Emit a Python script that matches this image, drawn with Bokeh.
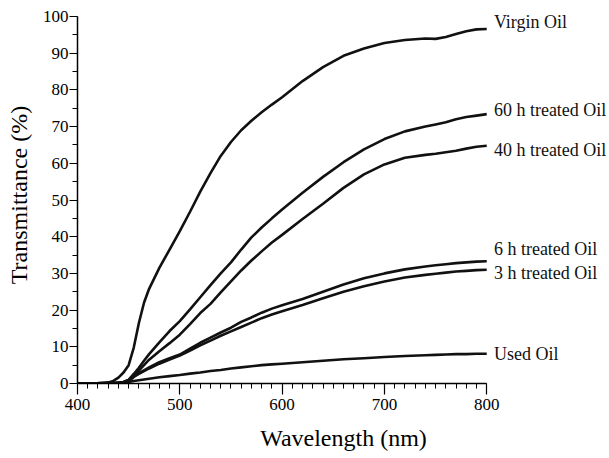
from bokeh.plotting import figure
from bokeh.models import Range1d, SingleIntervalTicker
from bokeh.core.properties import value
from bokeh.embed import file_html
from bokeh.resources import INLINE

wavelength = [400, 410, 420, 430, 435, 440, 445, 450, 455, 460, 465, 470, 480, 490,
              500, 510, 520, 530, 540, 550, 560, 570, 580, 590, 600, 620, 640, 660,
              680, 700, 720, 740, 750, 760, 770, 780, 790, 800]

virgin = [0.0, 0.05, 0.1, 0.3, 0.7, 1.6, 3.0, 5.0, 9.8, 16.5, 22.0, 25.8, 31.5, 36.5,
          41.5, 46.8, 52.3, 57.3, 62.0, 65.8, 69.0, 71.6, 73.9, 76.0, 78.0, 82.4, 86.2, 89.3,
          91.3, 92.8, 93.6, 94.0, 93.9, 94.4, 95.2, 96.0, 96.5, 96.6]

h60 = [0.0, 0.0, 0.0, 0.05, 0.1, 0.2, 0.4, 1.0, 2.6, 4.3, 6.2, 8.0, 11.2, 14.3,
       17.0, 20.2, 23.5, 26.8, 30.0, 33.0, 36.5, 39.8, 42.5, 45.0, 47.4, 52.0, 56.3, 60.3,
       63.8, 66.6, 68.7, 70.0, 70.6, 71.2, 72.0, 72.6, 73.0, 73.4]

h40 = [0.0, 0.0, 0.0, 0.05, 0.1, 0.2, 0.3, 0.5, 1.8, 3.5, 5.0, 6.5, 8.8, 11.0,
       13.3, 16.2, 19.2, 21.7, 24.8, 27.8, 30.8, 33.5, 36.0, 38.4, 40.5, 44.8, 49.0, 53.3,
       57.0, 59.7, 61.5, 62.3, 62.6, 63.0, 63.4, 64.0, 64.5, 64.8]

h6 = [0.0, 0.0, 0.0, 0.05, 0.1, 0.2, 0.4, 1.0, 2.0, 2.8, 3.6, 4.4, 5.8, 6.9,
      7.9, 9.5, 11.1, 12.5, 13.9, 15.2, 16.8, 18.0, 19.3, 20.4, 21.3, 23.0, 25.0, 27.0,
      28.7, 30.0, 31.1, 31.9, 32.2, 32.5, 32.8, 33.0, 33.2, 33.3]

h3 = [0.0, 0.0, 0.0, 0.05, 0.1, 0.2, 0.3, 0.8, 1.8, 2.6, 3.4, 4.1, 5.4, 6.5,
      7.6, 9.0, 10.4, 11.7, 13.0, 14.2, 15.4, 16.6, 17.8, 18.8, 19.7, 21.4, 23.2, 25.0,
      26.5, 27.8, 28.9, 29.6, 29.9, 30.2, 30.5, 30.7, 30.9, 31.0]

used = [0.0, 0.0, 0.0, 0.05, 0.05, 0.1, 0.2, 0.4, 0.7, 0.9, 1.1, 1.3, 1.7, 2.0,
        2.3, 2.7, 3.0, 3.4, 3.7, 4.1, 4.4, 4.7, 5.0, 5.2, 5.4, 5.8, 6.2, 6.6,
        6.9, 7.2, 7.5, 7.7, 7.8, 7.9, 8.0, 8.0, 8.1, 8.1]

series = [virgin, h60, h40, h6, h3, used]
label_names = ["Virgin Oil", "60 h treated Oil", "40 h treated Oil",
               "6 h treated Oil", "3 h treated Oil", "Used Oil"]
label_y = [98.4, 74.6, 63.7, 36.7, 30.2, 8.1]
label_x = [807] * 6

SERIF = "Liberation Serif"

p = figure(width=609, height=458,
           x_range=Range1d(400, 920), y_range=Range1d(0, 104.36),
           output_backend="svg", toolbar_location=None,
           min_border_left=77, min_border_right=0,
           min_border_top=0, min_border_bottom=75)

p.outline_line_color = None
p.xgrid.visible = False
p.ygrid.visible = False
p.background_fill_color = "white"
p.border_fill_color = "white"

for ys in series:
    p.line(wavelength, ys, line_color="#111111", line_width=2.6)

p.text(x=label_x, y=label_y, text=label_names,
       text_font=value(SERIF), text_font_size="18px",
       text_align="left", text_baseline="middle", text_color="#111111")

xa = p.xaxis[0]
xa.bounds = (400, 800)
xa.ticker = SingleIntervalTicker(interval=100, num_minor_ticks=10)
xa.axis_line_color = "black"
xa.axis_line_width = 1.5
xa.major_tick_line_color = "black"
xa.major_tick_line_width = 1.2
xa.minor_tick_line_color = "black"
xa.major_tick_out = 11
xa.major_tick_in = 0
xa.minor_tick_out = 5
xa.minor_tick_in = 0
xa.major_label_text_font = SERIF
xa.major_label_text_font_size = "17px"
xa.major_label_text_color = "black"
xa.major_label_standoff = 4
xa.axis_label = "Wavelength (nm)"
xa.axis_label_text_font = SERIF
xa.axis_label_text_font_size = "24px"
xa.axis_label_text_font_style = "normal"
xa.axis_label_text_color = "black"
xa.axis_label_standoff = 12

ya = p.yaxis[0]
ya.bounds = (0, 100)
ya.ticker = SingleIntervalTicker(interval=10, num_minor_ticks=2)
ya.axis_line_color = "black"
ya.axis_line_width = 1.5
ya.major_tick_line_color = "black"
ya.major_tick_line_width = 1.2
ya.minor_tick_line_color = "black"
ya.major_tick_out = 8
ya.major_tick_in = 0
ya.minor_tick_out = 5
ya.minor_tick_in = 0
ya.major_label_text_font = SERIF
ya.major_label_text_font_size = "17px"
ya.major_label_text_color = "black"
ya.major_label_standoff = 1
ya.axis_label = "Transmittance  (%)"
ya.axis_label_text_font = SERIF
ya.axis_label_text_font_size = "24px"
ya.axis_label_text_font_style = "normal"
ya.axis_label_text_color = "black"
ya.axis_label_standoff = 8

open("out.html", "w").write(file_html(p, INLINE))
